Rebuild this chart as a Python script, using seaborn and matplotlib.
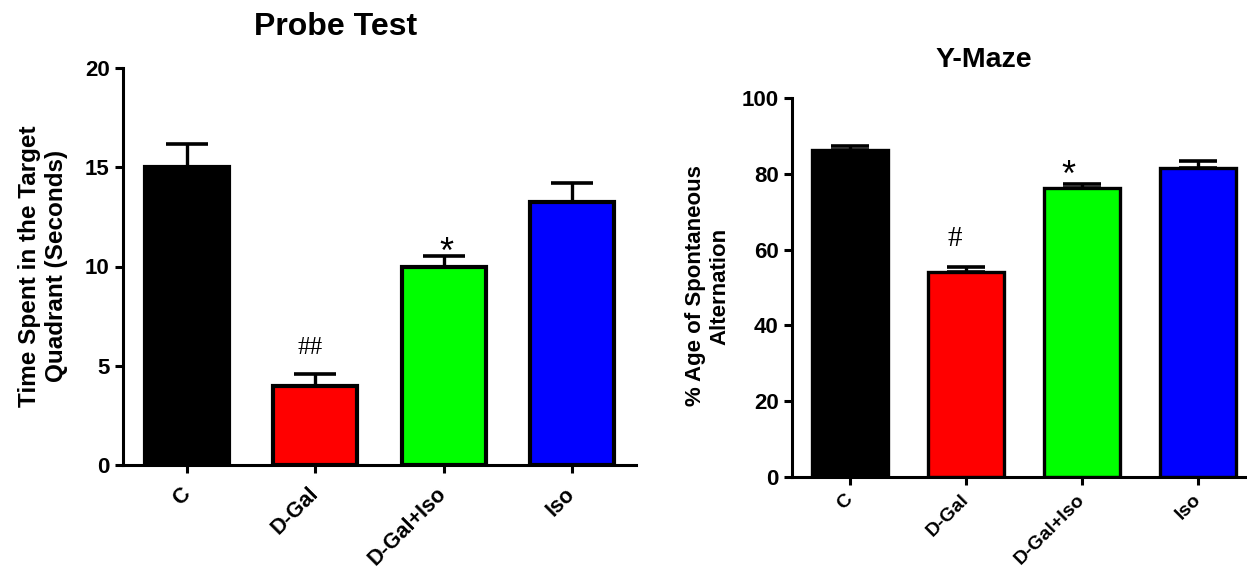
import matplotlib
matplotlib.use("Agg")
import matplotlib.pyplot as plt
import seaborn as sns
import numpy as np
import pandas as pd

# ---- data ----
groups = ["C", "D-Gal", "D-Gal+Iso", "Iso"]
colors = ["#000000", "#FF0000", "#00FF00", "#0000FF"]

probe_mean = [15.0, 4.0, 10.0, 13.25]
probe_sem = [1.15, 0.6, 0.55, 0.95]

ymaze_mean = [86.2, 54.0, 76.2, 81.6]
ymaze_sem = [1.2, 1.3, 1.2, 1.8]

probe_marks = ["", "##", "*", ""]
ymaze_marks = ["", "#", "*", ""]

sns.set_style("ticks")
plt.rcParams["font.family"] = ["Liberation Sans", "DejaVu Sans"]
plt.rcParams["font.weight"] = "bold"
plt.rcParams["text.color"] = "black"
plt.rcParams["axes.labelcolor"] = "black"
plt.rcParams["xtick.color"] = "black"
plt.rcParams["ytick.color"] = "black"

fig = plt.figure(figsize=(12.47, 5.68), dpi=100)
ax1 = fig.add_axes([123 / 1247, 1 - 465 / 568, (636 - 123) / 1247, (465 - 68) / 568])
ax2 = fig.add_axes([792 / 1247, 1 - 477 / 568, (1247 - 792) / 1247, (477 - 98) / 568])


def draw(ax, means, sems, edge_lw, capsize, ylim, yticks, xmax, tick_fs, xfs, xpad):
    df = pd.DataFrame({"group": groups, "value": means})
    sns.barplot(data=df, x="group", y="value", hue="group", palette=colors,
                saturation=1, legend=False, ax=ax, width=0.655,
                edgecolor="black", linewidth=edge_lw, errorbar=None,
                order=groups, hue_order=groups)
    xs = np.arange(len(groups))
    ax.errorbar(xs, means, yerr=[np.zeros(len(sems)), sems], fmt="none",
                ecolor="black", elinewidth=2.4, capsize=capsize, capthick=2.6,
                zorder=1)
    ax.set_ylim(*ylim)
    ax.set_xlim(-0.5, xmax)
    ax.set_yticks(yticks)
    ax.set_yticklabels([str(t) for t in yticks], fontsize=tick_fs,
                       fontweight="bold", color="black")
    ax.set_xticks(xs)
    ax.set_xticklabels(groups, rotation=45, ha="right", va="center",
                       rotation_mode="anchor", fontsize=xfs,
                       fontweight="bold", color="black")
    ax.set_xlabel("")
    ax.set_ylabel("")
    for s in ["top", "right"]:
        ax.spines[s].set_visible(False)
    for s in ["left", "bottom"]:
        ax.spines[s].set_linewidth(2.2)
        ax.spines[s].set_color("black")
    ax.tick_params(axis="y", width=2.2, length=6, pad=3.5, colors="black")
    ax.tick_params(axis="x", width=2.2, length=5.5, pad=xpad, colors="black")
    ax.patch.set_alpha(0)


draw(ax1, probe_mean, probe_sem, 3.0, 15, (0, 20), [0, 5, 10, 15, 20], 3.5, 16, 15.5, 13)
draw(ax2, ymaze_mean, ymaze_sem, 2.4, 13.5, (0, 100), [0, 20, 40, 60, 80, 100], 3.42, 16, 14, 9)

# significance marks
ax1.text(1 - 0.04, 5.6, probe_marks[1], ha="center", va="baseline",
         fontsize=18, family="Liberation Serif", fontweight="normal")
ax1.text(2 + 0.02, 10.2, probe_marks[2], ha="center", va="baseline",
         fontsize=26, fontweight="normal")
ax2.text(1 - 0.095, 61.0, ymaze_marks[1], ha="center", va="baseline",
         fontsize=21, family="Liberation Serif", fontweight="normal")
ax2.text(2 - 0.12, 76.8, ymaze_marks[2], ha="center", va="baseline",
         fontsize=26, fontweight="normal")

# titles
fig.text(336 / 1247, 1 - 35 / 568, "Probe Test", ha="center", va="baseline",
         fontsize=23, fontweight="bold")
fig.text(984 / 1247, 1 - 67 / 568, "Y-Maze", ha="center", va="baseline",
         fontsize=20.5, fontweight="bold")

# y labels
fig.text(43 / 1247, 1 - 266 / 568, "Time Spent in the Target\nQuadrant (Seconds)",
         rotation=90, ha="center", va="center", multialignment="center",
         fontsize=17.5, fontweight="bold")
fig.text(707.5 / 1247, 1 - 286 / 568, "% Age of Spontaneous\nAlternation",
         rotation=90, ha="center", va="center", multialignment="center",
         fontsize=16, fontweight="bold")

fig.savefig("out.png", dpi=100, facecolor="white")
